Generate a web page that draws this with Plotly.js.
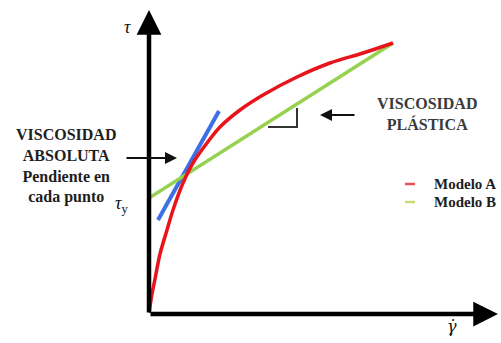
<!DOCTYPE html>
<html><head><meta charset="utf-8">
<script src="https://cdn.plot.ly/plotly-3.0.1.min.js"></script>
<style>html,body{margin:0;padding:0;background:#fff}#chart{width:501px;height:343px}</style>
</head><body><div id="chart"></div>
<script>
// Modelo A (curve) - shear rate vs shear stress (arbitrary units)
const gammaA = [0, 3, 6, 11, 18, 24, 34, 44, 58, 71, 91, 114, 148, 181, 214, 244];
const tauA   = [1, 20, 35, 60, 84, 104, 131, 151, 171, 187, 204, 219, 237, 251, 261, 271];
// Modelo B (Bingham line)
const gammaB = [0, 244];
const tauB   = [116, 271];
// Tangent (viscosidad absoluta)
const gammaT = [9, 70];
const tauT   = [94, 203];
// Slope triangle marker
const gammaS = [119, 148, 148];
const tauS   = [187, 187, 206];
const seriesNames = ['Modelo A', 'Modelo B'];

const W = 501, H = 343, L = 149, R = 0, T = 0, B = 29;
const pw = W - L - R, ph = H - T - B;
const px = v => (v - L) / pw;          // pixel x -> paper
const py = v => (H - B - v) / ph;      // pixel y -> paper
const serif = 'Liberation Serif';
const serif2 = 'DejaVu Serif';

const traces = [
  {x: gammaT, y: tauT, mode: 'lines', line: {color: '#3d6fe6', width: 4}, showlegend: false, hoverinfo: 'skip'},
  {x: gammaB, y: tauB, mode: 'lines', name: seriesNames[1], line: {color: '#96d150', width: 3.5}, showlegend: false},
  {x: gammaA, y: tauA, mode: 'lines', name: seriesNames[0], line: {color: '#e8141c', width: 3.5, shape: 'spline', smoothing: 1}, showlegend: false},
  {x: gammaS, y: tauS, mode: 'lines', line: {color: '#333333', width: 2}, showlegend: false, hoverinfo: 'skip'}
];

const txt = (x, y, text, opts) => Object.assign({
  xref: 'paper', yref: 'paper', x: px(x), y: py(y), text: text, showarrow: false,
  xanchor: 'center', yanchor: 'middle', font: {family: serif, size: 16, color: '#1e1e1e', weight: 'bold'}
}, opts || {});

const annotations = [
  {xref: 'x', yref: 'y', x: 0, y: 304, ax: 0, ay: 0, axref: 'x', ayref: 'y', text: '', showarrow: true, arrowhead: 2, arrowsize: 1.1, arrowwidth: 4.5, arrowcolor: '#000'},
  {xref: 'x', yref: 'y', x: 349, y: 0, ax: 0, ay: 0, axref: 'x', ayref: 'y', text: '', showarrow: true, arrowhead: 2, arrowsize: 1.1, arrowwidth: 4.5, arrowcolor: '#000'},
  {xref: 'paper', yref: 'paper', x: px(177), y: py(158), ax: -52, ay: 0, text: '', showarrow: true, arrowhead: 2, arrowsize: 1.2, arrowwidth: 2, arrowcolor: '#111'},
  {xref: 'paper', yref: 'paper', x: px(320), y: py(115), ax: 36, ay: 0, text: '', showarrow: true, arrowhead: 2, arrowsize: 1.2, arrowwidth: 2, arrowcolor: '#111'},
  txt(66, 166, 'VISCOSIDAD<br>ABSOLUTA<br>Pendiente en<br>cada punto'),
  txt(427, 114, 'VISCOSIDAD<br>PLÁSTICA', {font: {family: serif, size: 16, color: '#3a3a3a', weight: 'bold'}}),
  txt(127, 27, '<i>τ</i>', {font: {family: serif, size: 18, color: '#111'}}),
  txt(121, 204, '<i>τ</i><sub>y</sub>', {font: {family: serif, size: 18, color: '#111'}}),
  txt(452, 326, '<i>γ̇</i>', {font: {family: serif2, size: 16, color: '#111'}}),
  txt(432, 184, seriesNames[0], {xanchor: 'left', font: {family: serif, size: 15, color: '#1e1e1e', weight: 'bold'}}),
  txt(432, 202, seriesNames[1], {xanchor: 'left', font: {family: serif, size: 15, color: '#1e1e1e', weight: 'bold'}})
];

const shapes = [
  {type: 'line', xref: 'paper', yref: 'paper', x0: px(405), x1: px(415), y0: py(184), y1: py(184), line: {color: '#e8505a', width: 2.5}},
  {type: 'line', xref: 'paper', yref: 'paper', x0: px(405), x1: px(415), y0: py(202), y1: py(202), line: {color: '#c8dc7a', width: 2.5}}
];

const layout = {
  width: W, height: H,
  margin: {l: L, r: R, t: T, b: B, pad: 0},
  paper_bgcolor: '#fff', plot_bgcolor: '#fff',
  showlegend: false,
  xaxis: {range: [0, pw], visible: false, fixedrange: true},
  yaxis: {range: [0, ph], visible: false, fixedrange: true},
  annotations: annotations,
  shapes: shapes
};

Plotly.newPlot('chart', traces, layout, {displayModeBar: false, staticPlot: true});
</script>
</body></html>
